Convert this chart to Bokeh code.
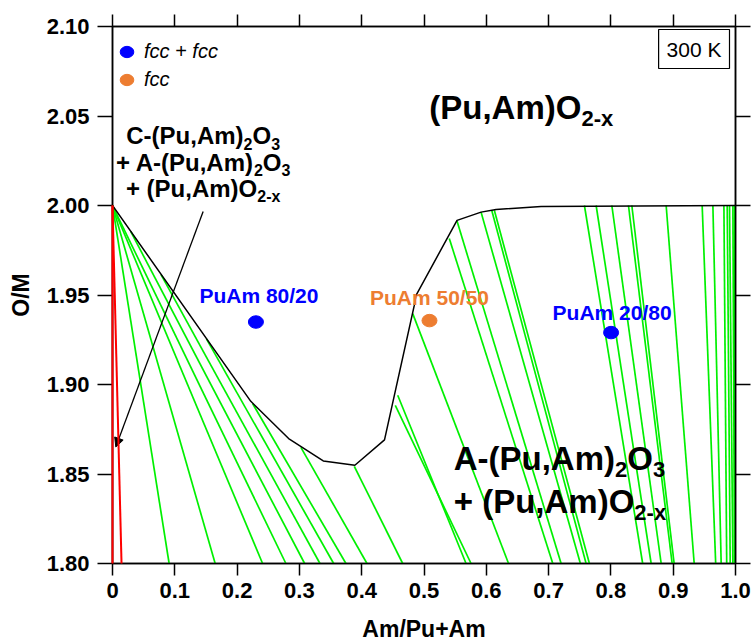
from bokeh.plotting import figure
from bokeh.models import (Range1d, LinearAxis, FixedTicker, PrintfTickFormatter,
                          ColumnDataSource, Legend, LegendItem, Label, Arrow, NormalHead)
from bokeh.core.properties import value
from bokeh.embed import file_html
from bokeh.resources import INLINE

# ---------------- data ----------------
x_ticks = [0, 0.1, 0.2, 0.3, 0.4, 0.5, 0.6, 0.7, 0.8, 0.9, 1.0]
x_tick_labels = ["0", "0.1", "0.2", "0.3", "0.4", "0.5", "0.6", "0.7", "0.8", "0.9", "1.0"]
y_ticks = [1.80, 1.85, 1.90, 1.95, 2.00, 2.05, 2.10]

# fcc phase boundary (O/M vs Am fraction)
fcc_bnd_x = [0.0, 0.222, 0.2827, 0.3383, 0.389, 0.4366, 0.4844, 0.4872, 0.553, 0.5916, 0.6157, 0.688, 1.0]
fcc_bnd_y = [2.0, 1.8906, 1.8698, 1.8573, 1.8549, 1.8691, 1.9442, 1.9498, 1.9917, 1.9963, 1.9978, 1.9995, 2.0]

# tie lines: upper end (x, y) -> lower end x at O/M = 1.80
tie_top_x = [0.0, 0.0, 0.0, 0.0, 0.0292, 0.0779, 0.1508, 0.2249, 0.3024, 0.3881,
             0.4578, 0.4539, 0.4819, 0.5406, 0.5530, 0.5916, 0.6087, 0.6129,
             0.7575, 0.7763, 0.8015, 0.8282, 0.8336, 0.8887, 0.9465, 0.9637,
             0.9814, 0.9867, 0.9904, 0.9958, 0.9984]
tie_top_y = [2.0, 2.0, 2.0, 2.0, 1.9855, 1.9614, 1.9255, 1.8893, 1.8649, 1.8543,
             1.8940, 1.8884, 1.9396, 1.9815, 1.9913, 1.9963, 1.9973, 1.9973,
             2.0, 2.0, 2.0, 2.0, 2.0, 2.0, 2.0, 2.0,
             2.0, 2.0, 2.0, 2.0, 2.0]
tie_bot_x = [0.0909, 0.1648, 0.2409, 0.2783, 0.3084, 0.3330, 0.3550, 0.3747, 0.4085, 0.4658,
             0.5675, 0.5755, 0.6357, 0.7067, 0.7201, 0.7510, 0.7602, 0.7655,
             0.8510, 0.8646, 0.8807, 0.8983, 0.9015, 0.9337, 0.9682, 0.9770,
             0.9859, 0.9915, 0.9958, 0.9984, 0.9995]

# C-type sesquioxide limits
c_top_x = [0.0, 0.0]
c_top_y = [2.0, 2.0]
c_bot_x = [0.0, 0.0145]

# experimental samples
sample_x = [0.2302, 0.5088, 0.8003]
sample_y = [1.9349, 1.9357, 1.9290]
sample_names = ["PuAm 80/20", "PuAm 50/50", "PuAm 20/80"]
sample_phase = ["fcc + fcc", "fcc", "fcc + fcc"]

BLUE = "#0000FF"
ORANGE = "#ED7D31"
GREEN = "#00F000"
FONT = "Liberation Sans"
BASE_FIX = 0.43   # compensation of the renderer's baseline placement (fraction of font size)

# ---------------- figure ----------------
p = figure(frame_width=623, frame_height=537,
           x_range=Range1d(0, 1.0), y_range=Range1d(1.80, 2.10),
           x_axis_type=None, y_axis_type=None,
           output_backend="svg", toolbar_location=None,
           min_border_left=112, min_border_right=16, min_border_top=26, min_border_bottom=60,
           background_fill_color="white", border_fill_color="white")
p.xgrid.visible = False
p.ygrid.visible = False
p.outline_line_color = "black"
p.outline_line_width = 1.5

xt = FixedTicker(ticks=x_ticks)
yt = FixedTicker(ticks=y_ticks)

def style_axis(ax, tick_out, labels=True):
    ax.axis_line_width = 1.5
    ax.major_tick_line_width = 1.5
    ax.major_tick_in = 0
    ax.major_tick_out = tick_out
    ax.minor_tick_line_color = None
    ax.major_label_text_font = FONT
    ax.major_label_text_font_style = "bold"
    ax.major_label_text_font_size = "22px" if labels else "0px"
    ax.major_label_text_color = "black" if labels else None
    ax.axis_label_text_font = FONT
    ax.axis_label_text_font_style = "bold"
    ax.axis_label_text_font_size = "23px"
    ax.axis_label_text_color = "black"

xb = LinearAxis(ticker=xt, axis_label="Am/Pu+Am",
                major_label_overrides={t: l for t, l in zip(x_ticks, x_tick_labels)})
style_axis(xb, 12)
xb.major_label_standoff = 7
xb.axis_label_standoff = 15
p.add_layout(xb, "below")

yl = LinearAxis(ticker=yt, axis_label="O/M", formatter=PrintfTickFormatter(format="%.2f"))
style_axis(yl, 15)
yl.major_label_standoff = 8
yl.axis_label_standoff = 10
p.add_layout(yl, "left")

xa = LinearAxis(ticker=xt)
style_axis(xa, 12, labels=False)
xa.major_label_standoff = 0
p.add_layout(xa, "above")

yr = LinearAxis(ticker=yt)
style_axis(yr, 15, labels=False)
yr.major_label_standoff = 0
p.add_layout(yr, "right")

# ---------------- tie lines and boundaries ----------------
p.segment(x0=tie_top_x, y0=tie_top_y, x1=tie_bot_x, y1=[y_ticks[0]] * len(tie_bot_x),
          line_color=GREEN, line_width=1.7)
red = p.segment(x0=c_top_x, y0=c_top_y, x1=c_bot_x, y1=[y_ticks[0]] * len(c_bot_x),
                line_color="#FF0000", line_width=2)
red.level = "overlay"
p.line(fcc_bnd_x, fcc_bnd_y, line_color="black", line_width=1.5)

# ---------------- samples ----------------
blue_src = ColumnDataSource(dict(x=[sample_x[0], sample_x[2]], y=[sample_y[0], sample_y[2]]))
orange_src = ColumnDataSource(dict(x=[sample_x[1]], y=[sample_y[1]]))
rb = p.ellipse("x", "y", source=blue_src, width=15, height=12.5, width_units="screen",
               height_units="screen", fill_color=BLUE, line_color=BLUE)
ro = p.ellipse("x", "y", source=orange_src, width=15, height=12.5, width_units="screen",
               height_units="screen", fill_color=ORANGE, line_color=ORANGE)

LAB_SIZE = 21
lab_src = ColumnDataSource(dict(x=sample_x, y=sample_y, t=sample_names,
                                c=[BLUE, ORANGE, BLUE], dx=[3, 0, 1],
                                dy=[g - BASE_FIX * LAB_SIZE for g in (-17, -14, -11)]))
p.text("x", "y", text="t", source=lab_src, x_offset="dx", y_offset="dy",
       text_color="c", text_font=value(FONT), text_font_style="bold",
       text_font_size=f"{LAB_SIZE}px", text_align="center", text_baseline="alphabetic")

legend = Legend(items=[LegendItem(label=sample_phase[0], renderers=[rb]),
                       LegendItem(label=sample_phase[1], renderers=[ro])],
                location=(5, 470), margin=0, padding=0, spacing=0,
                glyph_width=19, glyph_height=17, label_standoff=8,
                label_text_font=FONT, label_text_font_style="italic",
                label_text_font_size="20px", label_text_color="black", label_height=28,
                background_fill_alpha=0, border_line_alpha=0)
p.add_layout(legend)

# ---------------- rich text labels ----------------
BW = {' ': 278, '(': 333, ')': 333, '+': 584, ',': 278, '-': 333, '2': 556, '3': 556,
      'A': 722, 'C': 722, 'O': 778, 'P': 667, 'm': 889, 'u': 611, 'x': 556}

def tw(s, size):
    return sum(BW[c] for c in s) * size / 1000.0

def rich_text(x, y, pieces, size, align="left"):
    sub = round(size * 0.66)
    dy = size * 0.19
    widths = [tw(s, size if k == "n" else sub) for s, k in pieces]
    xo = 0 if align == "left" else -sum(widths) / 2
    for (s, k), w in zip(pieces, widths):
        fs = size if k == "n" else sub
        yo = (dy if k == "s" else 0) - BASE_FIX * fs
        p.text(x=[x], y=[y], text=[s], x_offset=xo, y_offset=yo,
               text_font=value(FONT), text_font_style="bold",
               text_font_size=f"{fs}px", text_color="black",
               text_align="left", text_baseline="alphabetic")
        xo += w

rich_text(0.5085, 2.0470, [("(Pu,Am)O", "n"), ("2-x", "s")], 33)
rich_text(0.5477, 1.8510, [("A-(Pu,Am)", "n"), ("2", "s"), ("O", "n"), ("3", "s")], 33)
rich_text(0.5477, 1.8268, [("+ (Pu,Am)O", "n"), ("2-x", "s")], 33)
rich_text(0.1455, 2.0333, [("C-(Pu,Am)", "n"), ("2", "s"), ("O", "n"), ("3", "s")], 24, "center")
rich_text(0.1455, 2.0184, [("+ A-(Pu,Am)", "n"), ("2", "s"), ("O", "n"), ("3", "s")], 24, "center")
rich_text(0.1455, 2.0035, [("+ (Pu,Am)O", "n"), ("2-x", "s")], 24, "center")

p.add_layout(Arrow(end=NormalHead(size=9, fill_color="black", line_color="black", line_width=1),
                   x_start=0.1455, y_start=1.9967, x_end=0.0053, y_end=1.8651,
                   line_color="black", line_width=1.3))

temp = Label(x=1.0, y=2.10, x_offset=-6, y_offset=-3, text="300 K",
             text_font=FONT, text_font_size="21px", text_color="black",
             text_align="right", text_baseline="top",
             border_line_color="black", border_line_width=1.2,
             background_fill_color="white", padding=8)
p.add_layout(temp)

open("out.html", "w").write(file_html(p, INLINE))
